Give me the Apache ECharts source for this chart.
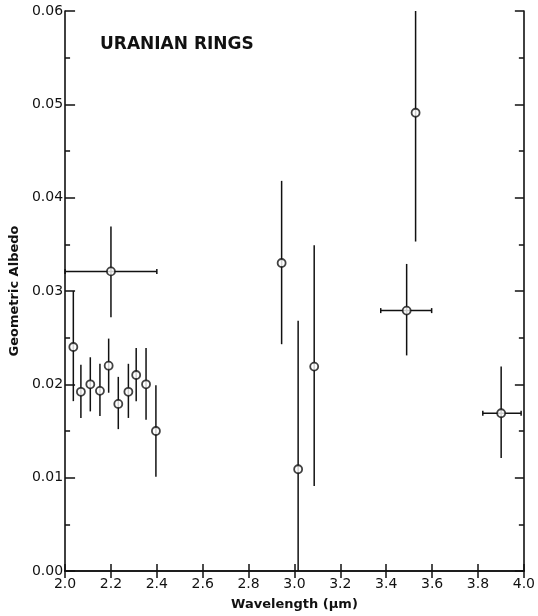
<!DOCTYPE html>
<html>
<head>
<meta charset="utf-8">
<script src="https://cdn.jsdelivr.net/npm/echarts@6/dist/echarts.min.js"></script>
<style>
html,body{margin:0;padding:0;background:#fff;}
#chart{width:538px;height:616px;}
</style>
</head>
<body>
<div id="chart"></div>
<script>
// Data
const wavelength = [2.036, 2.069, 2.110, 2.152, 2.190, 2.232, 2.276, 2.310, 2.353, 2.396, 2.20, 2.944, 3.016, 3.086, 3.489, 3.528, 3.901];
const albedo     = [0.0240, 0.0192, 0.0200, 0.0193, 0.0220, 0.0179, 0.0192, 0.0210, 0.0200, 0.0150, 0.0321, 0.0330, 0.0109, 0.0219, 0.0279, 0.0491, 0.0169];
const albedoLow  = [0.0182, 0.0164, 0.0171, 0.0166, 0.0191, 0.0152, 0.0164, 0.0182, 0.0162, 0.0101, 0.0272, 0.0243, 0.0000, 0.0091, 0.0231, 0.0353, 0.0121];
const albedoHigh = [0.0300, 0.0221, 0.0229, 0.0222, 0.0249, 0.0208, 0.0222, 0.0239, 0.0239, 0.0199, 0.0369, 0.0418, 0.0268, 0.0349, 0.0329, 0.0600, 0.0219];
const wlLow  = [null, null, null, null, null, null, null, null, null, null, 2.00, null, null, null, 3.376, null, 3.821];
const wlHigh = [null, null, null, null, null, null, null, null, null, null, 2.40, null, null, null, 3.598, null, 3.988];
const xTickLabels = ['2.0','2.2','2.4','2.6','2.8','3.0','3.2','3.4','3.6','3.8','4.0'];
const yTickLabels = ['0.00','0.01','0.02','0.03','0.04','0.05','0.06'];

const FONT = 'DejaVu Sans';
const chart = echarts.init(document.getElementById('chart'), null, {renderer:'canvas'});

const axisLine = {show:true, lineStyle:{color:'#111', width:1.6}};
const option = {
  animation:false,
  backgroundColor:'#fff',
  grid:{left:62, top:11, right:10, bottom:44, containLabel:false},
  title:{text:'URANIAN RINGS', left:95, top:31,
    textStyle:{fontFamily:FONT, fontSize:17, fontWeight:'bold', color:'#111'}},
  xAxis:[{
    type:'value', position:'bottom', min:2.0, max:4.0, interval:0.2,
    name:'Wavelength (\u03BCm)', nameLocation:'middle', nameGap:27,
    nameTextStyle:{fontFamily:FONT, fontSize:13, fontWeight:'bold', color:'#111'},
    axisLine:axisLine,
    axisTick:{show:true, inside:true, length:7, lineStyle:{color:'#111', width:1.5}},
    axisLabel:{fontFamily:FONT, fontSize:14, color:'#111', margin:6,
      formatter:(v)=>{const i=Math.round((v-2.0)/0.2); return xTickLabels[i]||'';}},
    splitLine:{show:false}
  },{
    type:'value', position:'top', min:2.0, max:4.0, interval:0.2,
    axisLine:axisLine,
    axisTick:{show:true, inside:true, length:7, lineStyle:{color:'#111', width:1.5}},
    axisLabel:{show:false}, splitLine:{show:false}
  }],
  yAxis:[{
    type:'value', position:'left', min:0, max:0.06, interval:0.01,
    name:'Geometric Albedo', nameLocation:'middle', nameGap:40, nameRotate:90,
    nameTextStyle:{fontFamily:FONT, fontSize:13, fontWeight:'bold', color:'#111'},
    axisLine:axisLine,
    axisTick:{show:true, inside:true, length:10, lineStyle:{color:'#111', width:1.5}},
    minorTick:{show:true, splitNumber:2, length:5, lineStyle:{color:'#111', width:1.5}},
    axisLabel:{fontFamily:FONT, fontSize:14, color:'#111', margin:2,
      formatter:(v)=>{const i=Math.round(v/0.01); return yTickLabels[i]||'';}},
    splitLine:{show:false}, minorSplitLine:{show:false}
  },{
    type:'value', position:'right', min:0, max:0.06, interval:0.01,
    axisLine:axisLine,
    axisTick:{show:true, inside:true, length:9, lineStyle:{color:'#111', width:1.5}},
    minorTick:{show:true, splitNumber:2, length:5, lineStyle:{color:'#111', width:1.5}},
    axisLabel:{show:false}, splitLine:{show:false}, minorSplitLine:{show:false}
  }],
  series:[{
    type:'custom',
    xAxisIndex:0, yAxisIndex:0,
    data: wavelength.map((w,i)=>[w, albedo[i], i]),
    encode:{x:0, y:1},
    renderItem:(params, api)=>{
      const i = api.value(2);
      const x = api.value(0);
      const children = [];
      const style = {stroke:'#111', lineWidth:1.5, fill:null};
      const top = api.coord([x, albedoHigh[i]]);
      const bot = api.coord([x, albedoLow[i]]);
      children.push({type:'line', shape:{x1:top[0], y1:top[1], x2:bot[0], y2:bot[1]}, style:style});
      if (wlLow[i] !== null) {
        const l = api.coord([wlLow[i], albedo[i]]);
        const r = api.coord([wlHigh[i], albedo[i]]);
        children.push({type:'line', shape:{x1:l[0], y1:l[1], x2:r[0], y2:r[1]}, style:style});
        children.push({type:'line', shape:{x1:l[0], y1:l[1]-2.5, x2:l[0], y2:l[1]+2.5}, style:style});
        children.push({type:'line', shape:{x1:r[0], y1:r[1]-2.5, x2:r[0], y2:r[1]+2.5}, style:style});
      }
      return {type:'group', children:children};
    },
    z:2
  },{
    type:'scatter',
    xAxisIndex:0, yAxisIndex:0,
    data: wavelength.map((w,i)=>[w, albedo[i]]),
    symbol:'circle', symbolSize:8,
    itemStyle:{color:'#fff', borderColor:'#111', borderWidth:1.8},
    z:3
  }]
};
chart.setOption(option);
</script>
</body>
</html>
